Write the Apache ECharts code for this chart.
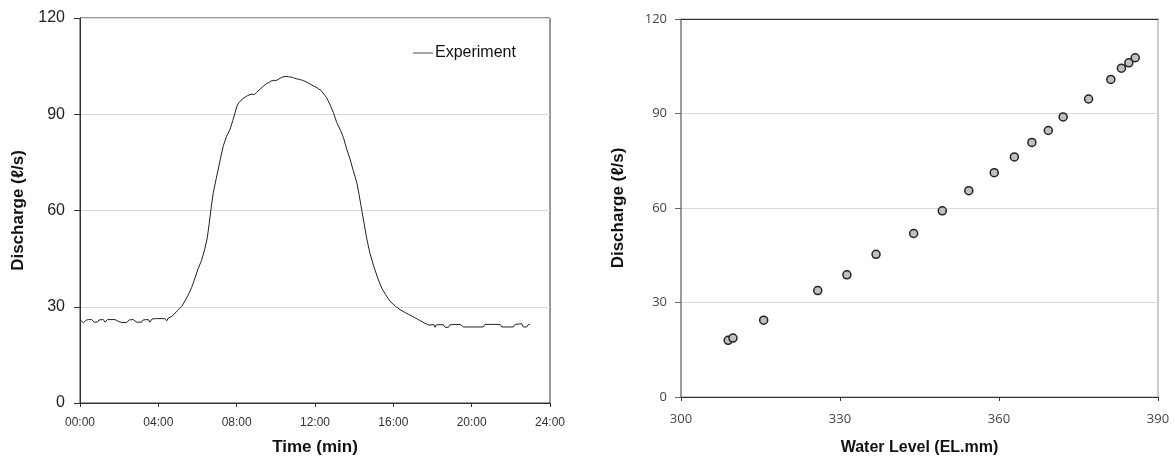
<!DOCTYPE html>
<html>
<head>
<meta charset="utf-8">
<title>Discharge</title>
<script src="https://cdn.jsdelivr.net/npm/echarts@6/dist/echarts.min.js"></script>
<style>
  html, body { margin: 0; padding: 0; background: #fff; }
  #chart { width: 1175px; height: 461px; }
</style>
</head>
<body>
<div id="chart"></div>
<script>
// left chart: hydrograph (time in minutes, discharge in l/s)
var expTime = [
  0, 0.09, 0.17, 0.31, 0.43, 0.6, 0.72, 0.89, 0.97, 1.19, 1.28, 1.4, 1.79, 1.96, 2.13, 2.38,
  2.52, 2.72, 2.89, 3.15, 3.23, 3.49, 3.57, 3.68, 3.91, 4.34, 4.43, 4.51, 4.7, 4.85, 5.0, 5.19,
  5.36, 5.53, 5.7, 5.87, 6.04, 6.21, 6.38, 6.5, 6.6, 6.7, 6.81, 6.94, 7.06, 7.2, 7.32, 7.48,
  7.66, 7.8, 7.92, 8.0, 8.1, 8.2, 8.3, 8.43, 8.55, 8.65, 8.78, 8.9, 9.02, 9.1, 9.19, 9.3,
  9.4, 9.53, 9.65, 9.76, 9.87, 9.96, 10.05, 10.15, 10.3, 10.4, 10.47, 10.55, 10.65, 10.75, 10.85, 10.95,
  11.07, 11.2, 11.3, 11.4, 11.5, 11.58, 11.7, 11.8, 11.9, 12.0, 12.1, 12.2, 12.34, 12.5, 12.6, 12.68,
  12.8, 12.94, 13.11, 13.3, 13.45, 13.6, 13.79, 13.95, 14.13, 14.25, 14.39, 14.52, 14.64, 14.8, 14.98, 15.2,
  15.41, 15.6, 15.83, 16.1, 16.34, 16.6, 16.85, 17.1, 17.36, 17.6, 17.79, 17.88, 18.08, 18.13, 18.2, 18.55,
  18.64, 18.81, 18.9, 19.41, 19.58, 20.6, 20.68, 21.45, 21.54, 22.13, 22.22, 22.56, 22.64, 22.81, 22.9, 22.98
];
var expFlow = [
  26.0, 25.4, 25.0, 25.8, 26.0, 26.0, 25.2, 25.2, 25.9, 26.0, 25.2, 26.0, 26.0, 25.4, 25.1, 25.1,
  25.9, 26.0, 25.2, 25.2, 25.9, 26.0, 25.2, 26.2, 26.3, 26.3, 25.6, 26.5, 27.0, 28.0, 28.9, 30.1,
  31.8, 33.7, 36.0, 38.9, 42.0, 44.5, 48.2, 51.5, 56.0, 61.0, 65.7, 69.5, 72.9, 77.0, 80.2, 83.0,
  85.3, 88.0, 90.5, 92.3, 93.5, 94.0, 94.8, 95.3, 95.8, 95.6, 96.3, 96.1, 96.8, 97.3, 97.8, 98.4,
  98.9, 99.6, 99.9, 100.4, 100.5, 100.9, 100.6, 101.2, 101.5, 101.4, 101.8, 101.6, 101.7, 101.2, 101.5, 101.2,
  101.0, 100.9, 100.4, 100.5, 100.1, 100.0, 99.6, 99.4, 98.9, 98.7, 98.3, 97.9, 97.2, 95.9, 95.1, 94.1,
  92.5, 90.5, 87.4, 85.0, 82.8, 79.5, 76.0, 72.5, 68.8, 65.0, 60.0, 55.5, 51.3, 46.8, 43.0, 39.0,
  35.8, 33.8, 31.7, 30.2, 29.1, 28.2, 27.4, 26.6, 25.7, 24.9, 24.3, 24.4, 24.4, 23.6, 24.4, 24.4,
  23.6, 23.6, 24.4, 24.5, 23.7, 23.7, 24.5, 24.5, 23.7, 23.7, 24.5, 24.7, 23.7, 23.7, 24.5, 24.5
];

// right chart: rating points
var waterLevel = [308.9, 309.8, 315.6, 325.8, 331.3, 336.8, 343.9, 349.3, 354.3, 359.1,
                  362.9, 366.2, 369.3, 372.1, 376.9, 381.1, 383.1, 384.5, 385.7];
var discharge  = [18.0, 18.7, 24.4, 33.8, 38.8, 45.3, 51.9, 59.1, 65.5, 71.2,
                  76.2, 80.8, 84.6, 88.9, 94.6, 100.8, 104.4, 106.1, 107.7];

var timeTicks = [0, 24, 4];       // min, max, interval (minutes)
var flowTicks = [0, 120, 30];
var levelTicks = [300, 390, 30];

var expData = expTime.map(function (t, i) { return [t, expFlow[i]]; });
var ratingData = waterLevel.map(function (x, i) { return [x, discharge[i]]; });

function pad2(n) { return (n < 10 ? '0' : '') + n; }

var myChart = echarts.init(document.getElementById('chart'));
var option = {
  animation: false,
  backgroundColor: '#fff',
  legend: {
    left: 413,
    top: 45,
    padding: 0,
    itemWidth: 20,
    itemHeight: 1.5,
    itemGap: 2,
    data: [{ name: 'Experiment', icon: 'rect', itemStyle: { color: '#888' } }],
    textStyle: { fontFamily: 'Arial, Liberation Sans', fontSize: 16, color: '#111', padding: [0, 0, 0, -3] }
  },
  grid: [
    { left: 80, top: 18, width: 470, height: 388, show: true, borderColor: '#333', borderWidth: 1 },
    { left: 681, top: 19, width: 477, height: 380, show: true, borderColor: '#999', borderWidth: 1 }
  ],
  xAxis: [
    {
      gridIndex: 0, type: 'value',
      min: timeTicks[0], max: timeTicks[1], interval: timeTicks[2],
      name: 'Time (min)', nameLocation: 'middle', nameGap: 36,
      nameTextStyle: { fontFamily: 'Arial, Liberation Sans', fontWeight: 'bold', fontSize: 17, color: '#111' },
      axisLine: { lineStyle: { color: '#333', width: 1 } },
      axisTick: { length: 4, lineStyle: { color: '#333' } },
      axisLabel: {
        margin: 14, fontFamily: 'Arial, Liberation Sans', fontSize: 12, color: '#333',
        formatter: function (v) { return pad2(v) + ':00'; }
      },
      splitLine: { show: false }
    },
    {
      gridIndex: 1, type: 'value',
      min: levelTicks[0], max: levelTicks[1], interval: levelTicks[2],
      name: 'Water Level (EL.mm)', nameLocation: 'middle', nameGap: 43,
      nameTextStyle: { fontFamily: 'Arial, Liberation Sans', fontWeight: 'bold', fontSize: 16, color: '#111' },
      axisLine: { lineStyle: { color: '#333', width: 1 } },
      axisTick: { length: 4, lineStyle: { color: '#333' } },
      axisLabel: { margin: 16, fontFamily: 'Open Sans', fontSize: 13, color: '#444' },
      splitLine: { show: false }
    },
    {
      gridIndex: 1, type: 'value', position: 'top',
      min: levelTicks[0], max: levelTicks[1],
      axisLine: { lineStyle: { color: '#333', width: 1 } },
      axisTick: { show: false }, axisLabel: { show: false }, splitLine: { show: false }
    }
  ],
  yAxis: [
    {
      gridIndex: 0, type: 'value',
      min: flowTicks[0], max: flowTicks[1], interval: flowTicks[2],
      name: 'Discharge (ℓ/s)', nameLocation: 'middle', nameGap: 53,
      nameTextStyle: { fontFamily: 'Arial, Liberation Sans', fontWeight: 'bold', fontSize: 17, color: '#111' },
      axisLine: { show: true, lineStyle: { color: '#333', width: 1 } },
      axisTick: { show: true, length: 6, lineStyle: { color: '#333' } },
      axisLabel: { margin: 15, fontFamily: 'Arial, Liberation Sans', fontSize: 16, color: '#222' },
      splitLine: { lineStyle: { color: '#d9d9d9', width: 1 } }
    },
    {
      gridIndex: 1, type: 'value',
      min: flowTicks[0], max: flowTicks[1], interval: flowTicks[2],
      name: 'Discharge (ℓ/s)', nameLocation: 'middle', nameGap: 54,
      nameTextStyle: { fontFamily: 'Arial, Liberation Sans', fontWeight: 'bold', fontSize: 17, color: '#111' },
      axisLine: { show: true, lineStyle: { color: '#888', width: 1.5 } },
      axisTick: { show: true, length: 6, lineStyle: { color: '#666' } },
      axisLabel: { margin: 14, fontFamily: 'Open Sans', fontSize: 13, color: '#444' },
      splitLine: { lineStyle: { color: '#d9d9d9', width: 1 } }
    }
  ],
  series: [
    {
      name: 'Experiment', type: 'line',
      xAxisIndex: 0, yAxisIndex: 0,
      data: expData,
      showSymbol: false, symbol: 'none',
      lineStyle: { color: '#222', width: 1 },
      itemStyle: { color: '#888' }
    },
    {
      name: 'Rating', type: 'scatter',
      xAxisIndex: 1, yAxisIndex: 1,
      data: ratingData,
      symbol: 'circle', symbolSize: 8,
      itemStyle: { color: '#c0c0c0', borderColor: '#222', borderWidth: 1.5, opacity: 1 }
    }
  ]
};
if (option && typeof option === "object") {
  myChart.setOption(option, true);
}
</script>
</body>
</html>
